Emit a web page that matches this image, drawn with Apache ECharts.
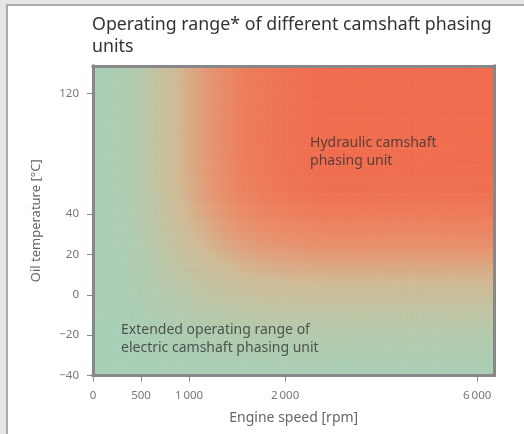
<!DOCTYPE html>
<html><head><meta charset="utf-8">
<script src="https://cdn.jsdelivr.net/npm/echarts@6/dist/echarts.min.js"></script>
<style>html,body{margin:0;padding:0;background:#fff}#c{width:524px;height:434px}</style>
</head><body><div id="c"></div>
<script>
// ---------- data ----------
const titleText = 'Operating range* of different camshaft phasing\nunits';
const xName = 'Engine speed [rpm]';
const yName = 'Oil temperature [°C]';
const xTicks = [0, 500, 1000, 2000, 6000];      // rpm
const yTicks = [-40, -20, 0, 20, 40, 120];      // °C
const xMaxRpm = 6360;
const yMaxTemp = 138;
// redness of the operating-range map
// rows: top (hot) -> bottom (cold); columns: low rpm -> high rpm
// 0 = electric camshaft phasing unit (green), 1 = hydraulic (red)
const redness = [
  [0.02,0.08,0.22,0.40,0.55,0.68,0.79,0.88,0.93,0.96,0.98,1.00,1.00,1.00,1.00,1.00,1.00,1.00,1.00,1.00],
  [0.02,0.08,0.22,0.40,0.55,0.68,0.79,0.88,0.93,0.96,0.98,1.00,1.00,1.00,1.00,1.00,1.00,1.00,1.00,1.00],
  [0.02,0.08,0.22,0.40,0.55,0.68,0.79,0.88,0.93,0.96,0.98,1.00,1.00,1.00,1.00,1.00,1.00,1.00,1.00,1.00],
  [0.02,0.08,0.22,0.40,0.55,0.68,0.79,0.88,0.93,0.96,0.98,1.00,1.00,1.00,1.00,1.00,1.00,1.00,1.00,1.00],
  [0.02,0.08,0.22,0.40,0.55,0.68,0.79,0.88,0.93,0.96,0.98,0.99,0.99,0.99,0.99,0.99,0.99,0.99,0.99,0.99],
  [0.02,0.08,0.22,0.40,0.55,0.67,0.78,0.87,0.92,0.95,0.97,0.99,0.99,0.99,0.99,0.99,0.99,0.99,0.99,0.99],
  [0.02,0.08,0.21,0.39,0.53,0.66,0.77,0.85,0.90,0.93,0.95,0.97,0.97,0.97,0.97,0.97,0.97,0.97,0.97,0.97],
  [0.02,0.07,0.20,0.36,0.50,0.62,0.72,0.80,0.85,0.87,0.89,0.91,0.91,0.91,0.91,0.91,0.91,0.91,0.91,0.91],
  [0.02,0.07,0.18,0.33,0.46,0.56,0.66,0.73,0.77,0.80,0.81,0.83,0.83,0.83,0.83,0.83,0.83,0.83,0.83,0.83],
  [0.01,0.06,0.16,0.29,0.40,0.50,0.58,0.64,0.68,0.70,0.72,0.73,0.73,0.73,0.73,0.73,0.73,0.73,0.73,0.73],
  [0.01,0.05,0.13,0.24,0.33,0.41,0.47,0.53,0.56,0.58,0.59,0.60,0.60,0.60,0.60,0.60,0.60,0.60,0.60,0.60],
  [0.01,0.04,0.10,0.19,0.26,0.32,0.37,0.41,0.44,0.45,0.46,0.47,0.47,0.47,0.47,0.47,0.47,0.47,0.47,0.47],
  [0.01,0.03,0.07,0.14,0.19,0.23,0.27,0.30,0.32,0.33,0.33,0.34,0.34,0.34,0.34,0.34,0.34,0.34,0.34,0.34],
  [0.00,0.02,0.05,0.08,0.12,0.14,0.17,0.18,0.20,0.20,0.21,0.21,0.21,0.21,0.21,0.21,0.21,0.21,0.21,0.21],
  [0.00,0.01,0.02,0.04,0.06,0.07,0.09,0.10,0.10,0.11,0.11,0.11,0.11,0.11,0.11,0.11,0.11,0.11,0.11,0.11],
  [0.00,0.00,0.01,0.02,0.03,0.03,0.04,0.04,0.05,0.05,0.05,0.05,0.05,0.05,0.05,0.05,0.05,0.05,0.05,0.05]
];
const colorStops = ['#a7cfb6', '#bac7a8', '#d0ba95', '#e8916d', '#f06d4e'];
const annotationTexts = ['Hydraulic camshaft\nphasing unit', 'Extended operating range of\nelectric camshaft phasing unit'];
const annotationRpm = [2520, 292];
const annotationTemp = [93, -13];

// ---------- scales (piecewise axes of the original) ----------
const rpmToU = v => v <= 2000 ? v / 500 : 4 + (v - 2000) / 1000;
const uToRpm = u => u <= 4 ? u * 500 : 2000 + (u - 4) * 1000;
const tToU = t => t <= 40 ? (t + 40) / 20 : 4 + (t - 40) * 3 / 80;
const uToT = u => u <= 4 ? u * 20 - 40 : 40 + (u - 4) * 80 / 3;
const fmtNum = v => {
  v = Math.round(v);
  const s = String(Math.abs(v)).replace(/\B(?=(\d{3})+(?!\d))/g, '\u2009');
  return (v < 0 ? '\u2212' : '') + s;
};

const FONT = '"Noto Sans", sans-serif';
const nRows = redness.length, nCols = redness[0].length;
const cellData = [];
redness.forEach((row, r) => row.forEach((v, c) => cellData.push([c, nRows - 1 - r, v])));
const colCats = Array.from({length: nCols}, (_, i) => i);
const rowCats = Array.from({length: nRows}, (_, i) => i);

// smooth shading of each cell between the read sample values (rendering only)
function shadeAt(fx, fy) {
  fx = Math.min(Math.max(fx, 0), nCols - 1);
  fy = Math.min(Math.max(fy, 0), nRows - 1);
  const x0 = Math.floor(fx), y0 = Math.floor(fy);
  const x1 = Math.min(x0 + 1, nCols - 1), y1 = Math.min(y0 + 1, nRows - 1);
  const tx = fx - x0, ty = fy - y0;
  const a = redness[y0][x0] * (1 - tx) + redness[y0][x1] * tx;
  const b = redness[y1][x0] * (1 - tx) + redness[y1][x1] * tx;
  return a * (1 - ty) + b * ty;
}
const SUB = 8;
function renderCell(params, api) {
  const c = api.value(0), rb = api.value(1);
  const rt = nRows - 1 - rb;
  const ctr = api.coord([c, rb]);
  const sz = api.size([1, 1]);
  const w = sz[0] / SUB, h = sz[1] / SUB;
  const x0 = ctr[0] - sz[0] / 2, y0 = ctr[1] - sz[1] / 2;
  const children = [];
  for (let j = 0; j < SUB; j++) {
    for (let i = 0; i < SUB; i++) {
      const v = shadeAt(c - 0.5 + (i + 0.5) / SUB, rt - 0.5 + (j + 0.5) / SUB);
      children.push({type: 'rect', shape: {x: x0 + i * w, y: y0 + j * h, width: w + 0.6, height: h + 0.6},
        style: {fill: echarts.color.lerp(v, colorStops)}});
    }
  }
  return {type: 'group', children};
}

const frameLine = {show: true, lineStyle: {color: '#878787', width: 3, cap: 'square'}};
const chart = echarts.init(document.getElementById('c'), null, {renderer: 'canvas'});
chart.setOption({
  backgroundColor: '#e6e6e6',
  animation: false,
  graphic: [
    {type: 'rect', z: -10, shape: {x: 7, y: 5, width: 540, height: 450},
     style: {fill: '#ffffff', stroke: '#ababab', lineWidth: 2}}
  ],
  title: {
    text: titleText, left: 92, top: 14, padding: 0,
    textStyle: {fontFamily: FONT, fontSize: 17.8, fontWeight: 'normal', color: '#333', lineHeight: 22}
  },
  grid: {left: 93, right: 29.5, top: 66, bottom: 58.5, containLabel: false},
  xAxis: [
    {type: 'category', data: colCats, show: false, position: 'top', boundaryGap: true},
    {type: 'value', position: 'bottom', min: 0, max: rpmToU(xMaxRpm), z: 5,
     name: xName, nameLocation: 'middle', nameGap: 36,
     nameTextStyle: {fontFamily: FONT, fontSize: 14, color: '#666'},
     splitLine: {show: false}, axisLine: frameLine,
     axisTick: {show: true, length: 6, customValues: xTicks.map(rpmToU), lineStyle: {color: '#888'}},
     axisLabel: {customValues: xTicks.map(rpmToU), margin: 14, fontFamily: FONT, fontSize: 11.5, color: '#777',
       formatter: v => fmtNum(uToRpm(v))}},
    {type: 'value', position: 'top', min: 0, max: rpmToU(xMaxRpm), z: 5,
     splitLine: {show: false}, axisLine: frameLine, axisTick: {show: false}, axisLabel: {show: false}}
  ],
  yAxis: [
    {type: 'category', data: rowCats, show: false, position: 'right', boundaryGap: true},
    {type: 'value', position: 'left', min: 0, max: tToU(yMaxTemp), z: 5,
     name: yName, nameLocation: 'middle', nameGap: 50,
     nameTextStyle: {fontFamily: FONT, fontSize: 13, color: '#666'},
     splitLine: {show: false}, axisLine: frameLine,
     axisTick: {show: true, length: 6, customValues: yTicks.map(tToU), lineStyle: {color: '#888'}},
     axisLabel: {customValues: yTicks.map(tToU), margin: 14, fontFamily: FONT, fontSize: 11.5, color: '#777',
       formatter: v => fmtNum(uToT(v))}},
    {type: 'value', position: 'right', min: 0, max: tToU(yMaxTemp), z: 5,
     splitLine: {show: false}, axisLine: frameLine, axisTick: {show: false}, axisLabel: {show: false}}
  ],
  series: [
    {type: 'custom', xAxisIndex: 0, yAxisIndex: 0, data: cellData, silent: true,
     renderItem: renderCell, clip: true},
    {type: 'scatter', xAxisIndex: 1, yAxisIndex: 1, symbolSize: 0, silent: true, z: 6,
     data: annotationTexts.map((t, i) => ({value: [rpmToU(annotationRpm[i]), tToU(annotationTemp[i])], name: t})),
     label: {show: true, position: [0, 0], align: 'left', verticalAlign: 'top',
       formatter: p => p.name, fontFamily: FONT, fontSize: 14, lineHeight: 18, color: '#333'}}
  ]
});
</script></body></html>
